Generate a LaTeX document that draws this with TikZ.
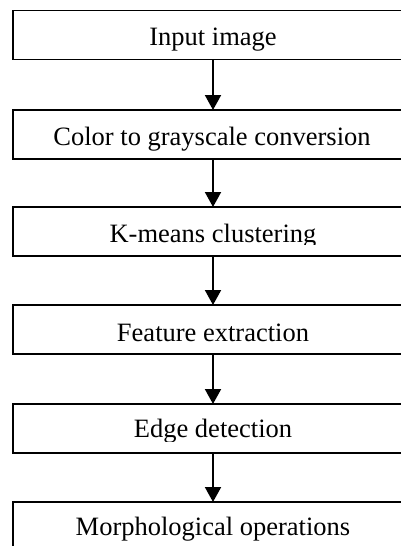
\documentclass[tikz,border=0pt]{standalone}
\usepackage{fontspec}
\setmainfont{Liberation Serif}
\usetikzlibrary{arrows.meta}
\begin{document}
\begin{tikzpicture}[x=1pt,y=-1pt,
  stagebox/.style={draw=black, line width=1.6pt, rectangle, minimum width=400pt, minimum height=49pt, inner sep=0pt, outer sep=0pt},
  label/.style={anchor=base, inner sep=0pt, font=\fontsize{26.5pt}{30pt}\selectfont},
  flow/.style={line width=2pt, -{Triangle[length=15pt,width=16pt]}}]
\useasboundingbox (0,0) rectangle (401,546);
\fill[white] (0,0) rectangle (401,546);
\node[stagebox] (b1) at (213,35) {};
\node[stagebox] (b2) at (213,134.5) {};
\node[stagebox] (b3) at (213,231.5) {};
\node[stagebox] (b4) at (213,329.5) {};
\node[stagebox] (b5) at (213,428.5) {};
\node[stagebox] (b6) at (213,526.5) {};
\node[label] (t1) at (213,45) {Input image};
\node[label] (t2) at (212,145) {Color to grayscale conversion};
\begin{scope}
\clip (0,0) rectangle (401,244);
\node[label] (t3) at (213,242.5) {K-means clustering};
\end{scope}
\node[label] (t4) at (213,341) {Feature extraction};
\begin{scope}
\clip (0,300) rectangle (401,441);
\node[label] (t5) at (213,437.5) {Edge detection};
\end{scope}
\node[label] (t6) at (213,535) {Morphological operations};
\draw[flow] (b1.south) -- (b2.north);
\draw[flow] (b2.south) -- (b3.north);
\draw[flow] (b3.south) -- (b4.north);
\draw[flow] (b4.south) -- (b5.north);
\draw[flow] (b5.south) -- (b6.north);
\end{tikzpicture}
\end{document}
